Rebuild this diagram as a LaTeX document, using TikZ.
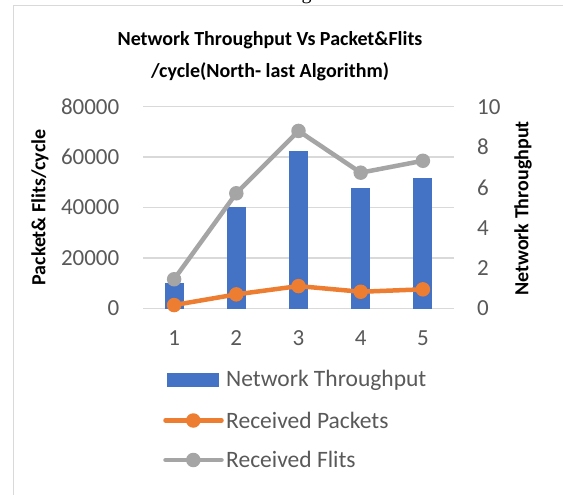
\documentclass[tikz,border=0pt]{standalone}
\usepackage{fontspec}
\setmainfont{Carlito}
\newfontfamily\bodyserif{Liberation Serif}
\definecolor{barblue}{HTML}{4472C4}
\definecolor{pktorange}{HTML}{ED7D31}
\definecolor{flitgray}{HTML}{A5A5A5}
\definecolor{gridgray}{HTML}{D9D9D9}
\definecolor{ticktext}{HTML}{595959}
\tikzset{
  gridline/.style={draw=gridgray, line width=1.5},
  ticklabel/.style={text=ticktext, font=\fontsize{23}{23}\selectfont, inner sep=0pt},
  axistitle/.style={font=\bfseries\fontsize{20}{20}\selectfont, inner sep=0pt},
  legendtext/.style={text=ticktext, font=\fontsize{23.5}{23.5}\selectfont, inner sep=0pt, anchor=west},
  series/.style={line width=4.5, line cap=round, line join=round},
  dot/.style={circle, fill=#1, minimum size=14.5pt, inner sep=0pt}
}
\begin{document}
\begin{tikzpicture}[x=1pt, y=-1pt]
\useasboundingbox (0,0) rectangle (563,495);
\fill[white] (0,0) rectangle (563,495);

% descender of the caption text running above the chart
\begin{scope}
  \clip (0,0) rectangle (563,6);
  \node[font=\bodyserif\fontsize{20}{20}\selectfont, anchor=base, inner sep=0pt] (capg) at (306.5,-0.6) {g};
\end{scope}

% chart frame (left and top edges)
\draw[gridgray, line width=1.3] (13.5,495) -- (13.5,5.5) -- (563,5.5);

% title
\node[font=\bfseries\fontsize{20}{20}\selectfont, align=center, inner sep=0pt] (title1) at (270,40) {Network Throughput Vs Packet\&Flits};
\node[font=\bfseries\fontsize{20}{20}\selectfont, align=center, inner sep=0pt] (title2) at (270,72) {/cycle(North- last Algorithm)};

% gridlines and tick labels of the left value axis
\foreach \k/\lv in {0/0, 1/20000, 2/40000, 3/60000, 4/80000} {
  \draw[gridline] (143,{308.5-50.45*\k}) -- (454,{308.5-50.45*\k});
  \node[ticklabel, anchor=east] (lt\k) at (119.5,{308.5-50.45*\k}) {\lv};
}
% tick labels of the right value axis (0 to 10)
\foreach \v in {0,2,4,6,8,10} {
  \node[ticklabel, anchor=west] (rt\v) at (477,{308.5-20.18*\v}) {\v};
}

% axis titles
\node[axistitle, rotate=90] (ylefttitle) at (40,207.5) {Packet\& Flits/cycle};
\node[axistitle, rotate=90] (yrighttitle) at (523,208.5) {Network Throughput};

% data: bar height, flits and packets, all on the right-hand scale
\foreach \i/\b/\f/\p in {1/1.28/1.45/0.17, 2/5.04/5.71/0.70, 3/7.78/8.80/1.11, 4/5.95/6.73/0.83, 5/6.48/7.32/0.95} {
  \pgfmathsetmacro{\cx}{143+62.2*(\i-0.5)}
  \fill[barblue] ({\cx-9.5},{308.5-20.18*\b}) rectangle ({\cx+9.5},308.5);
  \coordinate (f\i) at (\cx,{308.5-20.18*\f});
  \coordinate (p\i) at (\cx,{308.5-20.18*\p});
  \node[ticklabel] (cat\i) at (\cx,338) {\i};
}

% received flits
\draw[series, flitgray] (f1) -- (f2) -- (f3) -- (f4) -- (f5);
\foreach \i in {1,...,5} \node[dot=flitgray] (fm\i) at (f\i) {};
% received packets
\draw[series, pktorange] (p1) -- (p2) -- (p3) -- (p4) -- (p5);
\foreach \i in {1,...,5} \node[dot=pktorange] (pm\i) at (p\i) {};

% legend
\fill[barblue] (166.7,373.3) rectangle (219,386.7);
\node[legendtext] (lg1) at (226,380) {Network Throughput};
\coordinate (lo1) at (165.5,420.5);
\coordinate (lo2) at (221.5,420.5);
\draw[series, pktorange] (lo1) -- (lo2);
\node[dot=pktorange] (lom) at (193.3,420.5) {};
\node[legendtext] (lg2) at (226,420) {Received Packets};
\coordinate (lf1) at (165.5,460);
\coordinate (lf2) at (221.5,460);
\draw[series, flitgray] (lf1) -- (lf2);
\node[dot=flitgray] (lfm) at (193.3,460) {};
\node[legendtext] (lg3) at (226,459.5) {Received Flits};
\end{tikzpicture}
\end{document}
